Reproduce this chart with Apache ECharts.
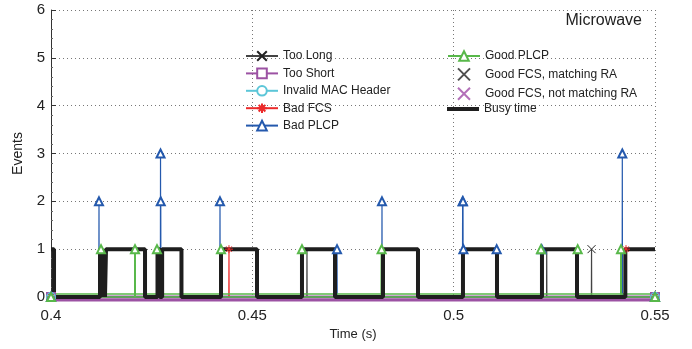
<!DOCTYPE html>
<html>
<head>
<meta charset="utf-8">
<title>Microwave</title>
<script src="https://cdn.jsdelivr.net/npm/echarts@6/dist/echarts.min.js"></script>
<style>
  html, body { margin: 0; padding: 0; background: #fff; }
  #chart { width: 692px; height: 349px; }
</style>
</head>
<body>
<div id="chart"></div>
<script>
// time range (s) and tick labels
var T0 = 0.4, T1 = 0.55;
var xTicks = [0.4, 0.45, 0.5, 0.55];
var yTicks = [0, 1, 2, 3, 4, 5, 6];

// spikes per event type: [time (s), events]
var tooLong = [[0.53424, 1]];
var tooLongHidden = [[0.46357, 1], [0.52311, 1]];   // marker lies under the busy line
var tooShort = [];
var invalidMac = [];
var badFcs = [[0.44420, 1], [0.54280, 1]];
var badPlcp = [
    [0.41192, 2], [0.42720, 3], [0.42726, 2], [0.44197, 2], [0.47103, 1],
    [0.48220, 2], [0.50222, 2], [0.50232, 2], [0.50242, 1], [0.51068, 1],
    [0.52186, 1], [0.54188, 3]
];
var goodPlcp = [
    [0.41242, 1], [0.42086, 1], [0.42632, 1], [0.44222, 1], [0.46233, 1],
    [0.48210, 1], [0.52168, 1], [0.53080, 1], [0.54156, 1]
];
var goodFcsMatch = [];
var goodFcsOther = [];

// busy time: level switches at these times
var busyTimes = [
    0.4, 0.40075, 0.41217, 0.41267, 0.41316, 0.41341, 0.41366, 0.42335,
    0.42645, 0.42700, 0.42760, 0.43240, 0.44222, 0.45116, 0.46233, 0.47053,
    0.48245, 0.49114, 0.50231, 0.51076, 0.52193, 0.53063, 0.54263, 0.55
];
var busyLevels = [
    1, 0, 1, 0, 1, 0, 1, 0,
    1, 0, 1, 0, 1, 0, 1, 0,
    1, 0, 1, 0, 1, 0, 1, 1
];

var DT = 0.00004;
var FONT = 'Liberation Sans';
var X_MARK = 'path://M0,0L10,10M10,0L0,10';
var STAR = 'path://M5,0L5,10M0,5L10,5M1.5,1.5L8.5,8.5M8.5,1.5L1.5,8.5';

// stem line: zero baseline with a spike at each event
function stems(spikes, ends) {
    var d = [{ value: [T0, 0], symbol: ends ? undefined : 'none' }];
    spikes.forEach(function (s) {
        d.push({ value: [s[0] - DT, 0], symbol: 'none' });
        d.push({ value: s });
        d.push({ value: [s[0] + DT, 0], symbol: 'none' });
    });
    d.push({ value: [T1, 0], symbol: ends ? undefined : 'none' });
    return d;
}

function lineSeries(name, spikes, color, symbol, extra) {
    var s = {
        name: name,
        type: 'line',
        data: stems(spikes, true),
        symbol: symbol,
        symbolSize: 8,
        showSymbol: true,
        lineStyle: { color: color, width: 1.2 },
        itemStyle: { color: color, borderColor: color, borderWidth: 1 },
        emphasis: { disabled: true }
    };
    for (var k in extra) s[k] = extra[k];
    return s;
}

var chart = echarts.init(document.getElementById('chart'));

var legendText = { fontFamily: FONT, fontSize: 12, color: '#222' };

var option = {
    animation: false,
    textStyle: { fontFamily: FONT },
    title: {
        text: 'Microwave',
        right: 45,
        top: 8,
        textStyle: { fontFamily: FONT, fontSize: 16, fontWeight: 'normal', color: '#222' }
    },
    grid: { left: 51, right: 37, top: 10, bottom: 52 },
    legend: [
        {
            data: ['Too Long', 'Too Short', 'Invalid MAC Header', 'Bad FCS', 'Bad PLCP'],
            orient: 'vertical',
            left: 240, top: 45,
            itemWidth: 32, itemHeight: 12, itemGap: 5.4,
            textStyle: legendText
        },
        {
            data: ['Good PLCP', 'Good FCS, matching RA', 'Good FCS, not matching RA'],
            orient: 'vertical',
            left: 442, top: 45,
            itemWidth: 32, itemHeight: 12, itemGap: 5.4,
            textStyle: legendText
        },
        {
            data: [{ name: 'Busy time', icon: 'rect' }],
            orient: 'vertical',
            left: 442, top: 98,
            itemWidth: 32, itemHeight: 4, itemGap: 7,
            textStyle: legendText
        }
    ],
    xAxis: {
        type: 'value',
        min: T0, max: T1, interval: 0.05,
        name: 'Time (s)',
        nameLocation: 'middle',
        nameGap: 31,
        nameTextStyle: { fontFamily: FONT, fontSize: 13, color: '#222' },
        axisLine: { show: true, onZero: false, lineStyle: { color: '#222' } },
        axisTick: { show: false },
        axisLabel: {
            margin: 11, fontSize: 15, color: '#222', fontFamily: FONT,
            formatter: function (v) {
                var t = xTicks.filter(function (x) { return Math.abs(x - v) < 1e-6; });
                return t.length ? String(t[0]) : '';
            }
        },
        splitLine: { show: true, lineStyle: { color: '#777', type: [1, 3], width: 1 } }
    },
    yAxis: {
        type: 'value',
        min: 0, max: 6, interval: 1,
        name: 'Events',
        nameLocation: 'middle',
        nameGap: 26,
        nameTextStyle: { fontFamily: FONT, fontSize: 14, color: '#222' },
        axisLine: { show: true, lineStyle: { color: '#333' } },
        axisTick: { show: true, inside: true, length: 5, lineStyle: { color: '#333' } },
        minorTick: { show: true, splitNumber: 5, length: 2, lineStyle: { color: '#666' } },
        axisLabel: {
            margin: 6, fontSize: 15, color: '#222', fontFamily: FONT,
            formatter: function (v) { return yTicks.indexOf(v) >= 0 ? String(v) : ''; }
        },
        splitLine: { show: true, lineStyle: { color: '#777', type: [1, 3], width: 1 } }
    },
    series: [
        lineSeries('Too Long', tooLong, '#444444', X_MARK, {
            itemStyle: { color: '#222', borderColor: '#222', borderWidth: 1 }
        }),
        {
            name: 'Too Long',
            type: 'line',
            data: stems(tooLongHidden, false),
            symbol: 'none',
            lineStyle: { color: '#444444', width: 1.2 },
            emphasis: { disabled: true }
        },
        lineSeries('Too Short', tooShort, '#9c52a3', 'emptyRect', {
            clip: false,
            lineStyle: { color: '#9c52a3', width: 3, shadowColor: '#9c52a3', shadowOffsetY: 3, shadowBlur: 0 }
        }),
        lineSeries('Invalid MAC Header', invalidMac, '#5cc6d8', 'emptyCircle', {}),
        lineSeries('Bad FCS', badFcs, '#ec2a2a', STAR, {}),
        lineSeries('Bad PLCP', badPlcp, '#2459ad', 'emptyTriangle', {}),
        lineSeries('Good PLCP', goodPlcp, '#58b84a', 'emptyTriangle', {
            clip: false,
            lineStyle: { color: '#58b84a', width: 1.6, shadowColor: '#58b84a', shadowOffsetY: -3, shadowBlur: 0 }
        }),
        {
            name: 'Good FCS, matching RA',
            type: 'scatter',
            data: goodFcsMatch,
            symbol: X_MARK,
            symbolSize: 8,
            itemStyle: { color: '#222', borderColor: '#222', borderWidth: 1 }
        },
        {
            name: 'Good FCS, not matching RA',
            type: 'scatter',
            data: goodFcsOther,
            symbol: X_MARK,
            symbolSize: 8,
            itemStyle: { color: '#a04ca8', borderColor: '#a04ca8', borderWidth: 1 }
        },
        {
            name: 'Busy time',
            type: 'line',
            step: 'end',
            data: busyTimes.map(function (t, i) { return [t, busyLevels[i]]; }),
            symbol: 'none',
            lineStyle: { color: '#1e1e1e', width: 4 },
            itemStyle: { color: '#1e1e1e' },
            emphasis: { disabled: true }
        }
    ]
};

chart.setOption(option);
</script>
</body>
</html>
